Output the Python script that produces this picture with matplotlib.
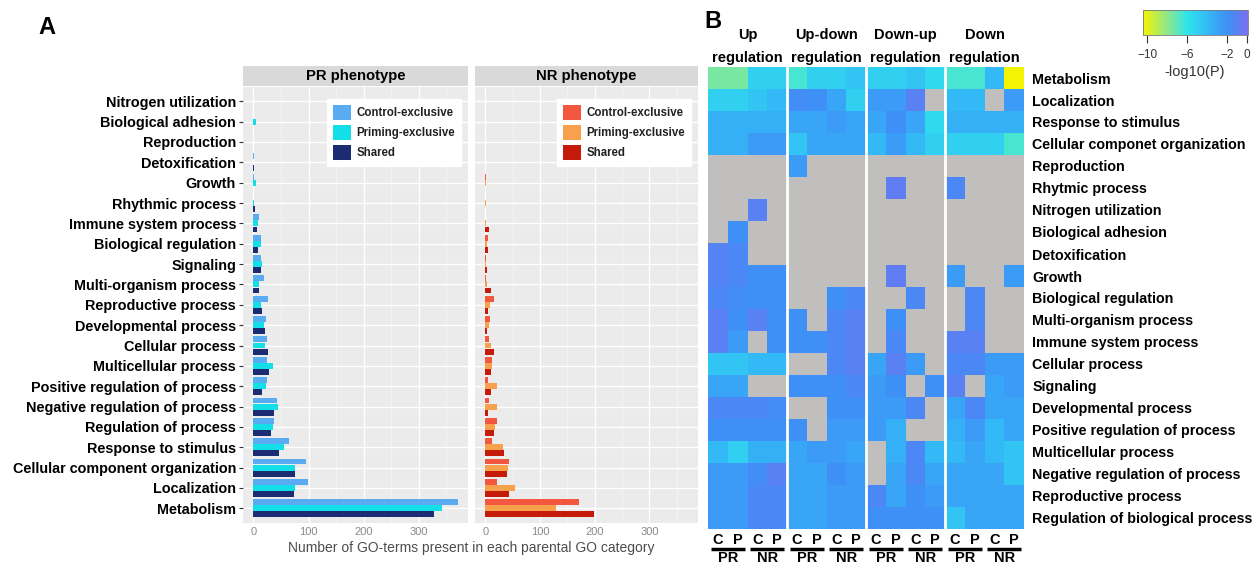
import numpy as np
import matplotlib
import matplotlib.pyplot as plt
from matplotlib.colors import LinearSegmentedColormap, Normalize
from matplotlib.cm import ScalarMappable

plt.rcParams['font.family'] = ['Liberation Sans', 'DejaVu Sans']

N = np.nan

# ---- panel A data (top to bottom) ----
go_categories = ['Nitrogen utilization', 'Biological adhesion', 'Reproduction', 'Detoxification',
                 'Growth', 'Rhythmic process', 'Immune system process', 'Biological regulation',
                 'Signaling', 'Multi-organism process', 'Reproductive process', 'Developmental process',
                 'Cellular process', 'Multicellular process', 'Positive regulation of process',
                 'Negative regulation of process', 'Regulation of process', 'Response to stimulus',
                 'Cellular component organization', 'Localization', 'Metabolism']

pr_control = [0, 0, 0, 1, 1, 0, 10, 14, 14, 19, 26, 23, 25, 25, 24, 43, 38, 64, 95, 99, 370]
pr_priming = [0, 4, 0, 0, 4, 1, 8, 14, 15, 10, 14, 19, 20, 35, 22, 45, 35, 56, 75, 75, 342]
pr_shared = [0, 0, 0, 1, 0, 3, 6, 9, 13, 10, 16, 20, 26, 29, 15, 37, 31, 47, 76, 73, 328]

nr_control = [0, 0, 0, 0, 2, 0, 0, 4, 2, 1, 15, 9, 7, 12, 5, 7, 22, 12, 43, 22, 172]
nr_priming = [0, 0, 0, 0, 2, 1, 2, 3, 2, 3, 8, 6, 11, 12, 22, 22, 18, 33, 42, 54, 130]
nr_shared = [0, 0, 0, 0, 0, 0, 6, 4, 3, 10, 5, 3, 15, 10, 11, 5, 15, 34, 40, 44, 198]

bar_labels = ['Control-exclusive', 'Priming-exclusive', 'Shared']
pr_colors = ['#5aacf2', '#12dfe8', '#1c2c72']
nr_colors = ['#f4573f', '#f7a14c', '#c41b0a']

# ---- panel B data: rows x [PR-C, PR-P, NR-C, NR-P] ----
heat_rows = ['Metabolism', 'Localization', 'Response to stimulus', 'Cellular componet organization',
             'Reproduction', 'Rhytmic process', 'Nitrogen utilization', 'Biological adhesion',
             'Detoxification', 'Growth', 'Biological regulation', 'Multi-organism process',
             'Immune system process', 'Cellular process', 'Signaling', 'Developmental process',
             'Positive regulation of process', 'Multicellular process',
             'Negative regulation of process', 'Reproductive process',
             'Regulation of biological process']

group_titles = ['Up\nregulation', 'Up-down\nregulation', 'Down-up\nregulation', 'Down\nregulation']

up_reg = [[-7.5, -7.5, -5, -5], [-5, -5, -4.5, -4], [-3.5, -3.5, -3.5, -3.5], [-3.5, -3.5, -2.5, -2.5],
          [N, N, N, N], [N, N, N, N], [N, N, -1, N], [N, -2, N, N], [-1.2, -1.5, N, N],
          [-1.2, -1.5, -2, -2], [-1.5, -1.8, -2, -2], [-1, -2, -1, -2], [-1, -2.5, N, -2],
          [-4.5, -4.5, -4, -4], [-3, -3, N, N], [-1.5, -1.5, -1.5, -1.8], [-2, -2, -2, -2],
          [-4, -5, -3.5, -3.5], [-2.5, -2.5, -1.8, -1], [-2.5, -2.5, -1.5, -1.5], [-2.5, -2.5, -1.5, -1.5]]

updown_reg = [[-6.5, -5, -5, -4.5], [-1.8, -2, -3, -5], [-3, -3, -2.5, -3], [-4.5, -3, -3, -3],
              [-2.5, N, N, N], [N, N, N, N], [N, N, N, N], [N, N, N, N], [N, N, N, N],
              [N, N, N, N], [N, N, -2, -1.5], [-2, N, -1.5, -1], [-2, -2, -1.5, -1],
              [N, N, -1.5, -1], [-2, -2, -2, -1.5], [N, N, -2, -2], [-2, N, -2.5, -2.5],
              [-3, -2.5, -2.5, -3], [-3, -3, -2, -2.5], [-3, -3, -2.5, -2.5], [-3, -3, -2.5, -2.5]]

downup_reg = [[-5, -5, -4.5, -5.5], [-2.5, -2.5, -1, N], [-3, -2, -3, -5.5], [-4, -2.5, -4, -5],
              [N, N, N, N], [N, -0.8, N, N], [N, N, N, N], [N, N, N, N], [N, N, N, N],
              [N, -0.8, N, N], [N, N, -1.5, N], [N, -2, N, N], [N, -1.5, N, N],
              [-3, -1, -2.5, N], [-2.5, -2, N, -2], [-2.5, -2.5, -1.5, N], [-2.5, -3.5, N, N],
              [N, -3.5, -1.5, -4], [N, -3, -1.5, -3], [-1.5, -3, -2, -2.5], [-2, -2, -2, -2]]

down_reg = [[-6.5, -6.5, -4, -10.4], [-4, -4, N, -2.5], [-3.5, -3.5, -3.5, -3.5], [-5, -5, -5, -6.5],
            [N, N, N, N], [-1.5, N, N, N], [N, N, N, N], [N, N, N, N], [N, N, N, N],
            [-2.5, N, N, -2.5], [N, -1.5, N, N], [N, -1.5, N, N], [-1, -1, N, N],
            [-1.5, -1.5, -2.5, -2.5], [-1, N, -3, -2.5], [-3, -1.5, -3, -3], [-3.5, -2.5, -4, -3],
            [-4, -3, -4, -4.5], [-3, -3, -3, -4.5], [-3, -3, -3, -3], [-4.5, -3, -3, -3]]

cbar_ticks = [-10, -6, -2, 0]

# ---- figure ----
W, H = 1260, 563
fig = plt.figure(figsize=(12.6, 5.63), dpi=100)

def fbox(x0, y0, x1, y1):
    return [x0 / W, 1 - y1 / H, (x1 - x0) / W, (y1 - y0) / H]

n = len(go_categories)
ypos = np.arange(n)[::-1]

def bar_panel(box, strip_box, vals, colors, title, show_labels):
    ax = fig.add_axes(box)
    ax.set_facecolor('#ebebeb')
    for k in range(3):
        ax.barh(ypos + (1 - k) * 0.3, vals[k], height=0.29, color=colors[k],
                label=bar_labels[k], zorder=3)
    ax.set_xlim(-19, 389)
    ax.set_ylim(-0.72, n - 0.3)
    ax.set_xticks([0, 100, 200, 300])
    ax.set_xticks([50, 150, 250, 350], minor=True)
    ax.set_yticks(ypos)
    ax.grid(True, which='major', color='white', lw=1.0, zorder=0)
    ax.grid(True, which='minor', axis='x', color='#f5f5f5', lw=0.6, zorder=0)
    for s in ax.spines.values():
        s.set_visible(False)
    ax.tick_params(axis='x', which='both', length=0, labelsize=8, labelcolor='#8a8a8a', pad=3)
    if show_labels:
        ax.set_yticklabels(go_categories, fontsize=10.4, fontweight='bold')
        ax.tick_params(axis='y', length=3, color='#333333', pad=2)
    else:
        ax.set_yticklabels([])
        ax.tick_params(axis='y', length=0)
    leg = ax.legend(loc='upper right', bbox_to_anchor=(0.995, 0.985), fontsize=8.3,
                    frameon=True, fancybox=False, edgecolor='white', facecolor='white',
                    framealpha=1, handlelength=1.6, handleheight=1.6, labelspacing=0.45,
                    handletextpad=0.5, borderpad=0.5)
    for t in leg.get_texts():
        t.set_fontweight('bold')
        t.set_color('#222222')
    sax = fig.add_axes(strip_box)
    sax.set_facecolor('#d9d9d9')
    sax.set_xticks([])
    sax.set_yticks([])
    for s in sax.spines.values():
        s.set_visible(False)
    sax.text(0.5, 0.5, title, ha='center', va='center', fontsize=10.7, fontweight='bold',
             transform=sax.transAxes)
    return ax

bar_panel(fbox(243, 87, 468, 523), fbox(243, 66, 468, 86),
          [pr_control, pr_priming, pr_shared], pr_colors, 'PR phenotype', True)
bar_panel(fbox(475, 87, 698, 523), fbox(475, 66, 698, 86),
          [nr_control, nr_priming, nr_shared], nr_colors, 'NR phenotype', False)

fig.text(471 / W, 1 - 548 / H, 'Number of GO-terms present in each parental GO category',
         ha='center', va='center', fontsize=10, color='#4d4d4d')
fig.text(47 / W, 1 - 27 / H, 'A', ha='center', va='center', fontsize=17, fontweight='bold')
fig.text(713 / W, 1 - 22 / H, 'B', ha='center', va='center', fontsize=17, fontweight='bold')

# ---- panel B heatmap ----
heat = np.hstack([np.array(up_reg), np.array(updown_reg), np.array(downup_reg), np.array(down_reg)])
cmap = LinearSegmentedColormap.from_list('go', [
    (0.0, '#f4f400'), (0.23, '#8fe88a'), (0.42, '#2fe4ea'), (0.62, '#33b8f6'),
    (0.81, '#3f8ff6'), (1.0, '#7a70f0')])
cmap.set_bad('#c0bfbd')
norm = Normalize(vmin=-10.45, vmax=0.1)

axh = fig.add_axes(fbox(708, 67, 1024, 529))
axh.pcolormesh(np.arange(17), np.arange(22), np.ma.masked_invalid(heat), cmap=cmap, norm=norm)
axh.set_xlim(0, 16)
axh.set_ylim(21, 0)
for gx in [4, 8, 12]:
    axh.axvline(gx, color='white', lw=2)
for s in axh.spines.values():
    s.set_visible(False)
axh.set_xticks([])
axh.yaxis.tick_right()
axh.set_yticks(np.arange(21) + 0.5)
axh.set_yticklabels(heat_rows, fontsize=10.3, fontweight='bold')
axh.tick_params(axis='y', length=0, pad=6)

for g, title in enumerate(group_titles):
    top, bottom = title.split('\n')
    cx = 4 * g + 2
    axh.text(cx, 1 + (67 - 35) / 462, top, ha='center', va='center', fontsize=10.5,
             fontweight='bold', transform=axh.get_xaxis_transform())
    axh.text(cx, 1 + (67 - 58) / 462, bottom, ha='center', va='center', fontsize=10.5,
             fontweight='bold', transform=axh.get_xaxis_transform())
    for p, ph in enumerate(['PR', 'NR']):
        x0 = 4 * g + 2 * p
        for j, cl in enumerate(['C', 'P']):
            axh.text(x0 + j + 0.5, -11 / 462, cl, ha='center', va='center', fontsize=10.5,
                     fontweight='bold', transform=axh.get_xaxis_transform())
        axh.plot([x0 + 0.15, x0 + 1.85], [-20 / 462, -20 / 462], color='black', lw=2.5,
                 transform=axh.get_xaxis_transform(), clip_on=False, solid_capstyle='butt')
        axh.text(x0 + 1, -29 / 462, ph, ha='center', va='center', fontsize=10.5,
                 fontweight='bold', transform=axh.get_xaxis_transform())

# ---- colorbar ----
cax = fig.add_axes(fbox(1143, 10, 1248, 35))
cb = fig.colorbar(ScalarMappable(norm=norm, cmap=cmap), cax=cax, orientation='horizontal')
cb.set_ticks(cbar_ticks)
cb.set_ticklabels(['\u221210', '\u22126', '\u22122', '0'])
cb.outline.set_edgecolor('#777777')
cb.outline.set_linewidth(0.6)
cax.tick_params(axis='x', length=6, width=0.8, color='#333333', labelsize=8.5,
                labelcolor='#333333', pad=4)
fig.text(1195 / W, 1 - 72 / H, '-log10(P)', ha='center', va='center', fontsize=10.5, color='#333333')

fig.savefig('out.png', dpi=100)
